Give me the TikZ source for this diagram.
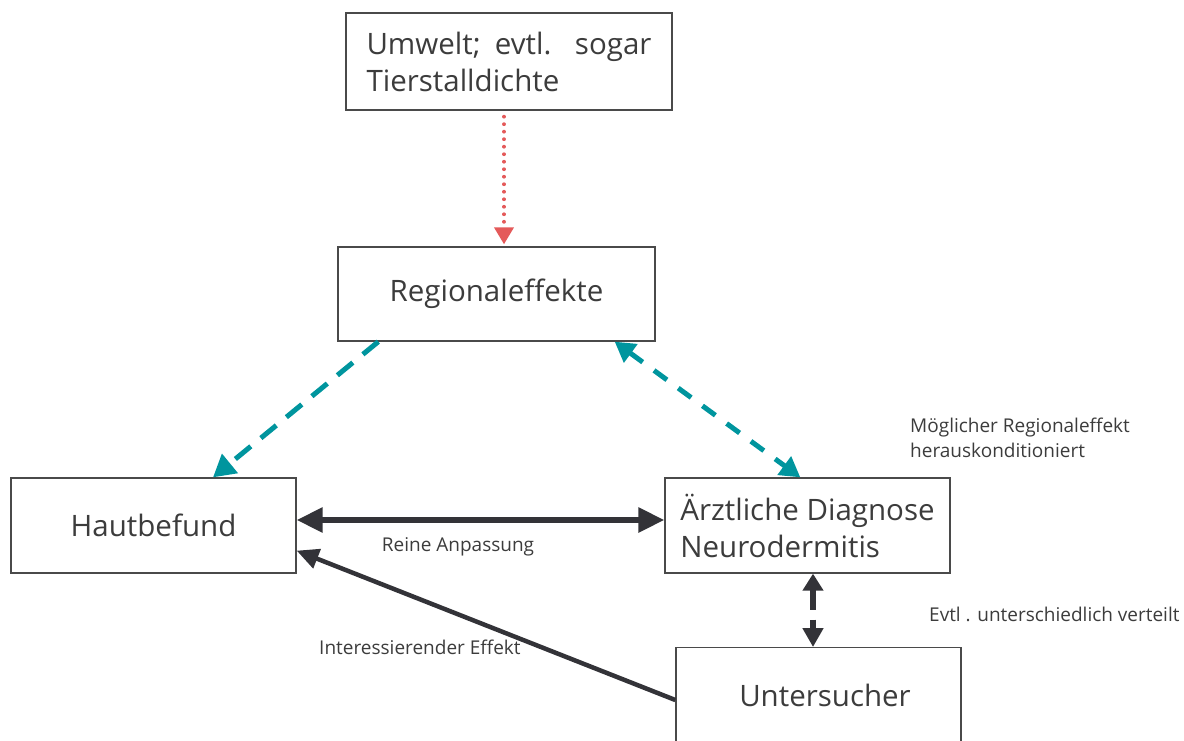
\documentclass[tikz,border=0pt]{standalone}
\usepackage{fontspec}
\setmainfont{Open Sans}
\usetikzlibrary{arrows.meta}
\definecolor{txt}{HTML}{3C3C3C}
\definecolor{frame}{HTML}{4A4A4A}
\definecolor{tealarrow}{HTML}{00959E}
\definecolor{redarrow}{HTML}{E45A5A}
\definecolor{darkarrow}{HTML}{333338}
\tikzset{
  box/.style={draw=frame, line width=1.3pt, fill=white, inner sep=0pt, text=txt,
    font=\fontsize{29.5}{37}\selectfont},
  lbl/.style={text=txt, inner sep=0pt, font=\fontsize{19}{25}\selectfont},
  redline/.style={draw=redarrow, line width=3.8pt, line cap=round, dash pattern=on 0.01pt off 7.5pt,
    -{Triangle[length=17pt,width=19pt,fill=redarrow]}},
  tealline/.style={draw=tealarrow, line width=5pt},
  darkline/.style={draw=darkarrow, line width=6pt}
}
\begin{document}
\begin{tikzpicture}[x=1pt,y=-1pt]
\useasboundingbox (0,0) rectangle (1184,740);
\clip (0,0) rectangle (1184,740);
\hyphenpenalty=10000
\node[box, minimum width=326pt, minimum height=97pt, text width=285pt, align=justify] (umwelt) at (509,61.5) {Umwelt; evtl. sogar Tierstalldichte};
\node[box, minimum width=317pt, minimum height=94pt] (regional) at (496.5,294) {Regionaleffekte};
\node[box, minimum width=285pt, minimum height=95pt] (haut) at (153.5,525.5) {Hautbefund};
\node[box, minimum width=285pt, minimum height=95pt, align=left] (diag) at (807.5,525.5) {Ärztliche Diagnose\\Neurodermitis};
\node[box, minimum width=285pt, minimum height=130pt, anchor=north] (unters) at (818.5,647) {};
\node[txt, font=\fontsize{29.5}{37}\selectfont, inner sep=0pt] (unterstext) at (825,695) {Untersucher};

\node[lbl] (reine) at (458,547) {Reine Anpassung};
\node[lbl, anchor=west] (interes) at (319,647) {Interessierender Effekt};
\node[lbl, anchor=west, align=left] (moegl) at (910,437.5) {Möglicher Regionaleffekt\\herauskonditioniert};
\node[lbl, anchor=west] (evtl) at (929,614) {Evtl . unterschiedlich verteilt};

\draw[redline] ([xshift=-5pt,yshift=-6pt]umwelt.south) -- ([xshift=7.5pt,yshift=2pt]regional.north);
\draw[tealline, dash pattern=on 20pt off 13pt, -{Triangle[length=22pt,width=24pt]}] ([xshift=41pt]regional.south west) -- ([xshift=59.5pt]haut.north);
\draw[tealline, dash pattern=on 16pt off 14pt, {Triangle[length=20pt,width=22pt]}-{Triangle[length=20pt,width=22pt]}] ([xshift=-41pt]regional.south east) -- ([xshift=136pt]diag.north west);
\draw[darkline, {Triangle[length=26pt,width=24pt]}-{Triangle[length=26pt,width=24pt]}] ([yshift=5.5pt]haut.east) -- ([yshift=5.5pt]diag.west);
\draw[darkline, line width=4.5pt, -{Triangle[length=22pt,width=20pt]}] ([yshift=-53pt]unters.north west) -- ([yshift=23pt]haut.south east);
\draw[darkline, line width=5.5pt, dash pattern=on 20pt off 10pt, {Triangle[length=17pt,width=20pt]}-{Triangle[length=19pt,width=20pt]}] ([xshift=5.5pt]diag.south) -- ([xshift=-5.5pt]unters.north);
\end{tikzpicture}
\end{document}
